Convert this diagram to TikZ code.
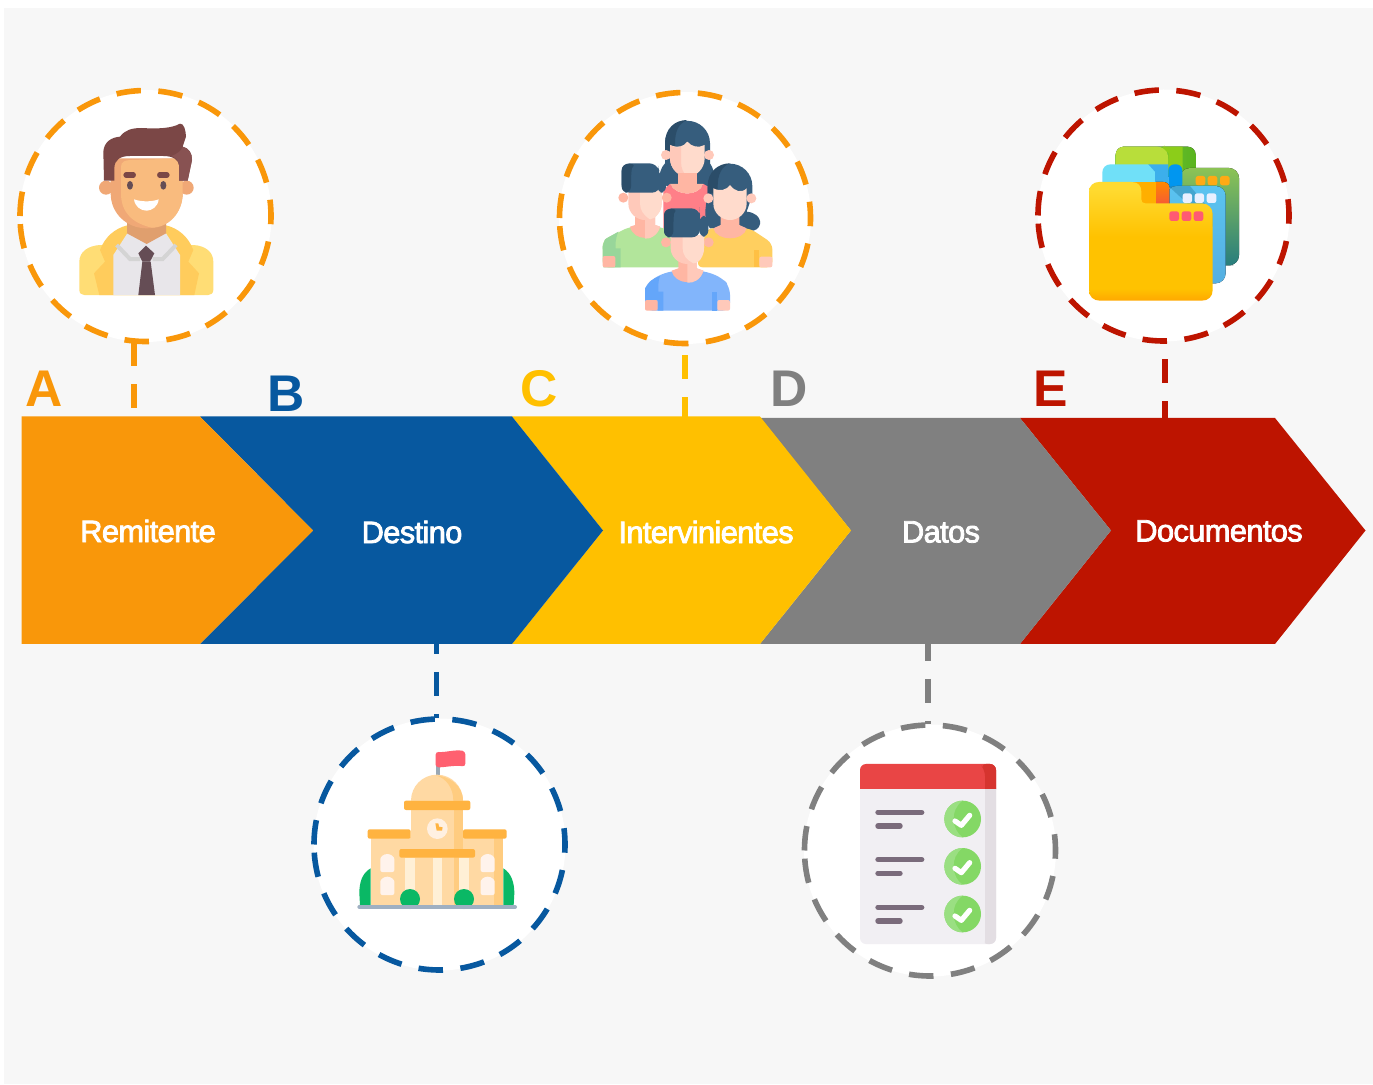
\documentclass[tikz,border=0pt]{standalone}
\usepackage{fontspec}
\setmainfont{Liberation Sans}
\newfontfamily\chevfont[FakeBold=2.6,LetterSpace=-2]{Liberation Sans}
\definecolor{cOrange}{HTML}{F9970A}
\definecolor{cBlue}{HTML}{07589F}
\definecolor{cYellow}{HTML}{FFC000}
\definecolor{cGrey}{HTML}{808080}
\definecolor{cRed}{HTML}{BD1400}
\definecolor{cBg}{HTML}{F7F7F7}
\definecolor{hairM}{HTML}{7B4746}
\definecolor{hairL}{HTML}{885252}
\definecolor{skinL}{HTML}{F9BB7E}
\definecolor{skinD}{HTML}{F0A876}
\definecolor{neckM}{HTML}{E09F6E}
\definecolor{jackL}{HTML}{FFDD75}
\definecolor{jackD}{HTML}{FFCC5C}
\definecolor{shirtM}{HTML}{E8E6EA}
\definecolor{tieM}{HTML}{654D55}
\definecolor{hairB}{HTML}{365D7D}
\definecolor{hairBD}{HTML}{2B4D69}
\definecolor{peopleL}{HTML}{FFDBCC}
\definecolor{peopleD}{HTML}{FFC9BA}
\definecolor{peopleN}{HTML}{FFB6A3}
\definecolor{bldL}{HTML}{FFD9A3}
\definecolor{bldD}{HTML}{FFCC80}
\definecolor{bldB}{HTML}{FFB340}
\definecolor{bldC}{HTML}{FFF0D6}
\definecolor{bldG}{HTML}{0AB865}
\definecolor{foldTop}{HTML}{FFDA30}
\definecolor{foldMid}{HTML}{FFC200}
\definecolor{foldBot}{HTML}{FFA800}
\pgfdeclareverticalshading{folderS}{100bp}{color(0bp)=(foldBot); color(25bp)=(foldBot); color(30bp)=(foldMid); color(52bp)=(foldMid); color(72bp)=(foldTop); color(100bp)=(foldTop)}
\tikzset{
 ring/.style={line width=2.8pt,dash pattern=on 12.25pt off 8.75pt},
 conn/.style={line width=2.9pt,dash pattern=on 12pt off 9pt},
 disc/.style={circle,fill=white,minimum size=126pt,inner sep=0pt},
 letter/.style={font=\fontsize{25.8}{26}\selectfont\bfseries,inner sep=0pt},
 chev/.style={font=\chevfont\fontsize{15.4}{16}\selectfont,text=white,inner sep=0pt},
 icon/.style={x=0.16667pt,y=-0.16667pt},
}
\begin{document}
\begin{tikzpicture}[x=0.5pt,y=-0.5pt]
\useasboundingbox (0,0) rectangle (1373,1085);
\fill[white] (0,0) rectangle (1373,1085);
\fill[cBg] (4,8) rectangle (1373,1084);

% discs
\node[disc] (cA) at (145.5,216) {};
\node[disc] (cB) at (439.5,844.5) {};
\node[disc] (cC) at (685,218) {};
\node[disc] (cD) at (930,850.5) {};
\node[disc] (cE) at (1163.5,215.5) {};
\draw[ring,cOrange] (cA.center) ++(-125.5,0) arc[start angle=180,end angle=540,radius=125.5];
\draw[ring,cBlue] (cB.center) ++(-125.5,0) arc[start angle=180,end angle=540,radius=125.5];
\draw[ring,cOrange] (cC.center) ++(-125.5,0) arc[start angle=180,end angle=540,radius=125.5];
\draw[ring,cGrey] (cD.center) ++(-125.5,0) arc[start angle=180,end angle=540,radius=125.5];
\draw[ring,cRed] (cE.center) ++(-125.5,0) arc[start angle=180,end angle=540,radius=125.5];

% connector feet on the arrow band
\coordinate (pA) at (134,416);
\coordinate (pB) at (436.5,643);
\coordinate (pC) at (685,417);
\coordinate (pD) at (928,643);
\coordinate (pE) at (1165,418);
\draw[conn,cOrange] (pA |- cA.south) -- (pA);
\draw[conn,cBlue,dash phase=6.5pt] (pB) -- (pB |- cB.north);
\draw[conn,cYellow,dash phase=2pt] (pC) -- (pC |- cC.south);
\draw[conn,cGrey,dash phase=3pt] (pD) -- (pD |- cD.north);
\draw[conn,cRed,dash phase=3.5pt] (pE) -- (pE |- cE.south);

% chevrons
\fill[cRed] (1020,418) -- (1275,418) -- (1365.5,530.5) -- (1275,644) -- (1020,644) -- (1111,530.5) -- cycle;
\fill[cGrey] (760,418) -- (1020,418) -- (1111,530.5) -- (1020,644) -- (760,644) -- (851,530.5) -- cycle;
\fill[cYellow] (512,416.5) -- (760,416.5) -- (851,530.5) -- (760,644) -- (512,644) -- (603,530.5) -- cycle;
\fill[cBlue] (200,416.5) -- (512,416.5) -- (603,530.5) -- (512,644) -- (200,644) -- (313,530.5) -- cycle;
\fill[cOrange] (21.5,416.5) -- (200,416.5) -- (313,530.5) -- (200,644) -- (21.5,644) -- cycle;

\node[chev] (tA) at (148,531) {Remitente};
\node[chev] (tB) at (412,532) {Destino};
\node[chev] (tC) at (706,532) {Intervinientes};
\node[chev] (tD) at (941,532) {Datos};
\node[chev] (tE) at (1219,531) {Documentos};

\node[letter,text=cOrange] (lA) at (44,389) {A};
\node[letter,text=cBlue] (lB) at (286.5,393.5) {B};
\node[letter,text=cYellow] (lC) at (539,389) {C};
\node[letter,text=cGrey] (lD) at (789,388.5) {D};
\node[letter,text=cRed] (lE) at (1050.5,389) {E};

% --- man icon (coordinates: 3x crop at 0,80)
\begin{scope}[shift={(0,80)},icon]
\fill[jackL] (238,630) -- (238,545) .. controls (238,515) and (265,497) .. (300,495) -- (580,495) .. controls (615,497) and (640,515) .. (640,545) -- (640,630) .. controls (640,640) and (632,645) .. (625,645) -- (253,645) .. controls (245,645) and (238,640) .. (238,630) -- cycle;
\fill[jackD] (298,645) -- (282,580) -- (315,545) -- (300,510) .. controls (315,470) and (345,445) .. (382,436) -- (498,436) .. controls (535,445) and (565,470) .. (580,510) -- (565,545) -- (597,580) -- (583,645) -- cycle;
\fill[shirtM] (340,645) -- (340,525) -- (382,460) -- (498,460) -- (540,525) -- (540,645) -- cycle;
\draw[line width=2pt,color=black!17] (350,495) -- (390,537) -- (420,537);
\draw[line width=2pt,color=black!17] (528,495) -- (488,537) -- (458,537);
\fill[neckM] (381,400) -- (498,400) -- (498,460) -- (440,492) -- (381,460) -- cycle;
\fill[skinD] (318,323) circle[radius=21] (560,323) circle[radius=21];
\fill[skinD] (332,235) -- (548,235) -- (548,340) .. controls (548,400) and (500,445) .. (440,445) .. controls (380,445) and (332,400) .. (332,340) -- cycle;
\fill[skinL] (363,260) .. controls (363,245) and (375,240) .. (395,240) -- (548,235) -- (548,340) .. controls (548,400) and (505,443) .. (455,443) .. controls (400,430) and (363,400) .. (363,340) -- cycle;
\fill[tieM] (438,497) -- (463,520) -- (450,545) -- (427,545) -- (415,520) -- cycle;
\fill[tieM] (427,545) -- (452,545) -- (465,645) -- (415,645) -- cycle;
\fill[hairM] (312,302) -- (310,215) .. controls (312,185) and (335,172) .. (360,170) .. controls (375,150) and (395,144) .. (425,144) .. controls (475,147) and (515,145) .. (540,131) .. controls (552,130) and (557,150) .. (558,170) -- (548,200) .. controls (568,205) and (576,220) .. (576,240) -- (563,302) -- (537,302) -- (537,255) .. controls (535,240) and (520,228) .. (490,228) -- (390,228) .. controls (360,228) and (343,240) .. (343,265) -- (343,302) -- cycle;
\fill[hairL] (515,228) .. controls (530,222) and (545,212) .. (548,200) .. controls (568,205) and (576,220) .. (576,240) -- (563,302) -- (537,302) -- (537,255) .. controls (535,240) and (525,232) .. (515,228) -- cycle;
\draw[hairM,line width=2.6pt,line cap=round] (378,285) -- (400,285) (479,285) -- (501,285);
\fill[tieM] (390,316) ellipse[x radius=9,y radius=13] (490,316) ellipse[x radius=9,y radius=13];
\fill[white] (402,358) .. controls (425,366) and (455,366) .. (476,358) .. controls (474,380) and (455,392) .. (440,392) .. controls (422,392) and (405,380) .. (402,358) -- cycle;
\end{scope}

% --- people icon (3x crop at 550,80)
\begin{scope}[shift={(550,80)},icon]
% back woman
\fill[hairB] (345,250) -- (345,190) arc[start angle=180,end angle=360,radius=67.5] -- (480,250) .. controls (500,280) and (495,310) .. (470,320) -- (355,320) .. controls (325,310) and (322,275) .. (345,250) -- cycle;
\fill[hairBD] (345,215) -- (345,190) .. controls (345,145) and (375,120) .. (412,120) .. controls (385,130) and (375,155) .. (375,190) -- (375,215) -- cycle;
\fill[peopleD] (348,225) circle[radius=15] (477,225) circle[radius=15];
\fill[peopleL] (360,195) .. controls (385,205) and (400,200) .. (412,185) .. controls (425,200) and (445,205) .. (464,195) -- (464,235) .. controls (464,265) and (440,290) .. (412,290) .. controls (385,290) and (360,265) .. (360,235) -- cycle;
\fill[peopleD] (360,195) .. controls (375,203) and (385,205) .. (393,200) -- (393,245) .. controls (393,265) and (400,280) .. (412,290) .. controls (385,290) and (360,265) .. (360,235) -- cycle;
\fill[peopleN] (385,278) -- (440,278) -- (440,320) -- (385,320) -- cycle;
\fill[color={rgb,255:red,255;green,127;blue,136}] (340,330) -- (360,312) .. controls (380,350) and (445,350) .. (460,312) -- (475,320) -- (475,420) -- (340,450) -- cycle;
\fill[peopleN] (360,312) .. controls (380,350) and (445,350) .. (460,312) -- cycle;
% left man
\fill[color={rgb,255:red,178;green,229;blue,155},rounded corners=3pt] (158,562) -- (158,480) -- (240,440) -- (330,440) -- (400,470) -- (400,562) -- cycle;
\fill[color={rgb,255:red,152;green,214;blue,154}] (165,478) -- (205,455) .. controls (195,480) and (197,490) .. (197,505) -- (212,505) -- (212,562) -- (160,562) -- (158,500) -- cycle;
\fill[peopleN,rounded corners=1pt] (158,528) -- (196,528) -- (196,562) -- (158,562) -- cycle;
\fill[peopleN] (240,440) -- (255,435) -- (255,410) -- (315,410) -- (315,435) -- (330,440) .. controls (320,485) and (250,485) .. (240,440) -- cycle;
\fill[peopleD] (285,410) -- (315,410) -- (315,435) -- (330,440) .. controls (325,465) and (300,478) .. (285,476) -- cycle;
\fill[peopleN] (220,353) circle[radius=15] (350,353) circle[radius=15];
\fill[peopleD] (235,330) -- (335,330) -- (335,370) .. controls (335,400) and (310,420) .. (285,420) .. controls (260,420) and (235,400) .. (235,370) -- cycle;
\fill[peopleL] (270,330) -- (335,330) -- (335,370) .. controls (335,395) and (315,418) .. (300,418) .. controls (280,405) and (270,390) .. (270,370) -- cycle;
\fill[hairB,rounded corners=4pt] (215,338) -- (215,250) -- (322,250) -- (330,280) -- (330,338) -- cycle;
\fill[hairB,rounded corners=3pt] (322,275) -- (348,275) -- (348,338) -- (322,338) -- cycle;
\fill[hairBD,rounded corners=3pt] (215,338) -- (215,252) -- (260,252) .. controls (245,265) and (243,280) .. (243,338) -- cycle;
% right woman
\fill[hairB] (473,345) -- (473,318) arc[start angle=180,end angle=360,radius=67] -- (607,345) -- (590,395) .. controls (640,400) and (640,445) .. (610,452) -- (480,445) .. controls (460,420) and (465,385) .. (473,345) -- cycle;
\fill[hairBD] (473,340) -- (473,318) .. controls (473,275) and (505,250) .. (540,250) .. controls (515,258) and (503,285) .. (503,318) -- (503,340) -- cycle;
\fill[color={rgb,255:red,255;green,207;blue,95},rounded corners=3pt] (440,562) -- (470,445) -- (600,445) -- (667,490) -- (667,562) -- cycle;
\fill[color={rgb,255:red,255;green,192;blue,68}] (613,510) -- (628,510) -- (628,562) -- (613,562) -- cycle;
\fill[peopleD,rounded corners=1pt] (628,530) -- (667,530) -- (667,562) -- (628,562) -- cycle;
\fill[peopleN] (490,445) -- (512,435) -- (512,410) -- (568,410) -- (568,435) -- (590,445) .. controls (580,485) and (500,485) .. (490,445) -- cycle;
\fill[peopleD] (475,355) circle[radius=15] (604,355) circle[radius=15];
\fill[peopleL] (490,325) .. controls (510,335) and (530,330) .. (540,315) .. controls (555,335) and (575,340) .. (590,325) -- (590,370) .. controls (590,400) and (565,420) .. (540,420) .. controls (515,420) and (490,400) .. (490,370) -- cycle;
% front man
\fill[color={rgb,255:red,130;green,181;blue,251},rounded corners=4pt] (285,692) -- (285,620) -- (312,592) -- (365,572) -- (460,572) -- (515,592) -- (540,620) -- (540,692) -- cycle;
\fill[color={rgb,255:red,100;green,166;blue,250}] (285,660) -- (285,625) .. controls (295,605) and (310,595) .. (330,588) .. controls (323,610) and (325,625) .. (325,635) -- (340,635) -- (340,692) -- (323,692) -- (323,660) -- cycle;
\fill[color={rgb,255:red,100;green,166;blue,250}] (486,635) -- (502,635) -- (502,692) -- (486,692) -- cycle;
\fill[peopleN,rounded corners=1pt] (285,660) -- (323,660) -- (323,692) -- (285,692) -- cycle;
\fill[peopleD,rounded corners=1pt] (502,660) -- (540,660) -- (540,692) -- (502,692) -- cycle;
\fill[peopleN] (365,572) -- (385,565) -- (385,540) -- (440,540) -- (440,565) -- (460,572) .. controls (450,618) and (375,618) .. (365,572) -- cycle;
\fill[peopleD] (412,540) -- (440,540) -- (440,565) -- (460,572) .. controls (452,600) and (430,610) .. (412,608) -- cycle;
\fill[peopleN] (348,487) circle[radius=15] (476,487) circle[radius=15];
\fill[peopleD] (362,465) -- (462,465) -- (462,505) .. controls (462,530) and (440,552) .. (412,552) .. controls (385,552) and (362,530) .. (362,505) -- cycle;
\fill[peopleL] (398,465) -- (462,465) -- (462,505) .. controls (462,530) and (445,552) .. (430,550) .. controls (410,540) and (398,525) .. (398,505) -- cycle;
\fill[hairB,rounded corners=4pt] (342,472) -- (342,385) -- (448,385) -- (450,405) -- (450,472) -- cycle;
\fill[hairB,rounded corners=3pt] (448,408) -- (475,408) -- (475,470) -- (448,470) -- cycle;
\fill[hairBD,rounded corners=3pt] (342,472) -- (342,387) -- (385,387) .. controls (372,400) and (370,415) .. (370,472) -- cycle;
\end{scope}

% --- folders icon (3x crop at 1030,80)
\begin{scope}[shift={(1030,80)},icon]
\fill[left color={rgb,255:red,120;green,200;blue,80},right color={rgb,255:red,90;green,180;blue,30},rounded corners=4pt] (257,290) -- (257,200) -- (497,200) -- (497,290) -- cycle;
\fill[color={rgb,255:red,184;green,222;blue,58},rounded corners=4pt] (257,290) -- (257,200) -- (405,200) -- (415,215) -- (415,290) -- cycle;
\fill[color={rgb,255:red,140;green,205;blue,25}] (395,200) -- (458,200) -- (458,280) -- (415,280) -- (415,220) -- cycle;
\fill[top color={rgb,255:red,140;green,195;blue,85},bottom color={rgb,255:red,40;green,125;blue,125},rounded corners=5pt] (450,264) -- (627,264) -- (627,556) -- (580,556) -- (450,556) -- cycle;
\fill[color={rgb,255:red,255;green,170;blue,20},rounded corners=1.2pt] (497,288) rectangle (526,316) (533,288) rectangle (562,316) (570,288) rectangle (599,316);
\fill[color={rgb,255:red,112;green,224;blue,248},rounded corners=4pt] (217,340) -- (217,253) -- (375,253) -- (375,340) -- cycle;
\fill[color={rgb,255:red,60;green,175;blue,235}] (355,253) -- (415,253) -- (415,330) -- (375,330) -- (375,275) -- cycle;
\fill[color={rgb,255:red,0;green,150;blue,240},rounded corners=3pt] (415,330) -- (415,253) -- (457,253) -- (457,330) -- cycle;
\fill[top color={rgb,255:red,90;green,195;blue,240},bottom color={rgb,255:red,85;green,175;blue,225},rounded corners=5pt] (410,318) -- (587,318) -- (587,610) -- (410,610) -- cycle;
\fill[color={rgb,255:red,40;green,130;blue,170},opacity=.45] (415,318) -- (548,440) -- (548,400) -- (480,318) -- cycle;
\fill[color={rgb,255:red,232;green,240;blue,255},rounded corners=1.2pt] (458,340) rectangle (486,369) (494,340) rectangle (522,369) (530,340) rectangle (559,369);
\fill[color={rgb,255:red,255;green,175;blue,0}] (310,306) -- (378,306) -- (378,380) -- (310,380) -- cycle;
\fill[top color={rgb,255:red,255;green,135;blue,0},bottom color={rgb,255:red,245;green,85;blue,60}] (378,380) -- (378,306) -- (400,306) .. controls (410,306) and (418,312) .. (418,322) -- (418,380) -- cycle;
\shade[shading=folderS] (177,630) -- (177,335) .. controls (177,318) and (190,306) .. (207,306) -- (305,306) .. controls (325,306) and (334,318) .. (334,335) -- (334,358) .. controls (334,366) and (338,370) .. (346,370) -- (515,370) .. controls (535,370) and (548,385) .. (548,402) -- (548,630) .. controls (548,650) and (535,662) .. (515,662) -- (210,662) .. controls (190,662) and (177,650) .. (177,630) -- cycle;
\fill[color={rgb,255:red,255;green,90;blue,115},rounded corners=1.2pt] (418,394) rectangle (447,423) (455,394) rectangle (484,423) (491,394) rectangle (520,423);
\end{scope}

% --- building icon (3x crop at 305,710)
\begin{scope}[shift={(305,710)},icon]
\draw[color={rgb,255:red,154;green,168;blue,181},line width=2.3pt] (399,160) -- (399,205);
\fill[color={rgb,255:red,255;green,96;blue,112},rounded corners=1.5pt] (392,172) -- (392,125) .. controls (420,128) and (450,118) .. (481,124) -- (481,170) .. controls (450,165) and (420,172) .. (392,172) -- cycle;
\fill[bldG] (197,475) .. controls (170,490) and (163,520) .. (163,550) -- (165,585) -- (197,585) -- cycle;
\fill[bldG] (595,475) .. controls (620,490) and (628,520) .. (628,550) -- (626,585) -- (595,585) -- cycle;
\fill[bldL] (198,380) rectangle (595,585);
\fill[bldD] (566,380) rectangle (595,585);
\fill[bldL] (318,272) arc[start angle=180,end angle=360,radius=78] -- cycle;
\fill[bldD] (392,196) .. controls (430,198) and (474,225) .. (474,272) -- (445,272) .. controls (445,235) and (425,205) .. (392,196) -- cycle;
\fill[bldL] (318,295) rectangle (474,420);
\fill[bldD] (447,295) rectangle (474,420);
\fill[bldB,rounded corners=1pt] (297,272) rectangle (496,300);
\fill[bldB,rounded corners=1pt] (188,358) rectangle (317,386);
\fill[bldB,rounded corners=1pt] (474,358) rectangle (605,386);
\fill[color={rgb,255:red,255;green,240;blue,225}] (397,356) circle[radius=31];
\fill[bldB] (391,340) -- (400,340) -- (402,350) -- (413,352) -- (411,362) -- (395,362) -- cycle;
\fill[bldC] (300,443) rectangle (330,585);
\fill[bldC] (383,443) rectangle (412,585);
\fill[bldC] (463,443) rectangle (492,585);
\fill[bldD] (447,420) rectangle (463,585);
\fill[bldB,rounded corners=1pt] (283,417) rectangle (510,443);
\foreach \wx in {226,527}{
 \fill[color={rgb,255:red,255;green,243;blue,236},rounded corners=1pt] (\wx,486) -- (\wx,453) arc[start angle=180,end angle=360,radius=21] -- (\wx+42,486) -- cycle;
 \fill[color={rgb,255:red,255;green,243;blue,236},rounded corners=1pt] (\wx,555) -- (\wx,521) arc[start angle=180,end angle=360,radius=21] -- (\wx+42,555) -- cycle;
}
\fill[bldG] (315,567) circle[radius=30];
\fill[bldG] (477,567) circle[radius=30];
\draw[color={rgb,255:red,159;green,176;blue,194},line width=2pt,line cap=round] (163,591) -- (630,591);
\end{scope}

% --- checklist icon (3x crop at 795,715)
\begin{scope}[shift={(795,715)},icon]
\fill[color={rgb,255:red,241;green,239;blue,243},rounded corners=3pt] (195,687) -- (195,200) -- (603,200) -- (603,687) -- cycle;
\fill[color={rgb,255:red,227;green,222;blue,227},rounded corners=3pt] (560,687) .. controls (568,680) and (570,675) .. (570,665) -- (570,200) -- (603,200) -- (603,687) -- cycle;
\fill[color={rgb,255:red,233;green,69;blue,69},rounded corners=3pt] (195,240) -- (195,147) -- (603,147) -- (603,240) -- cycle;
\fill[color={rgb,255:red,214;green,52;blue,47},rounded corners=3pt] (555,147) -- (603,147) -- (603,240) -- (570,240) -- (570,165) -- cycle;
\fill[color={rgb,255:red,241;green,239;blue,243}] (195,222) rectangle (570,245);
\fill[color={rgb,255:red,227;green,222;blue,227}] (570,222) rectangle (603,245);
\foreach \dy in {0,142,285}{
 \draw[color={rgb,255:red,122;green,107;blue,123},line width=2.7pt,line cap=round] (249,292+\dy) -- (380,292+\dy) (249,333+\dy) -- (315,333+\dy);
 \fill[color={rgb,255:red,132;green,216;blue,101}] (503,312+\dy) circle[radius=55];
 \fill[color={rgb,255:red,154;green,223;blue,130}] (503,257+\dy) arc[start angle=270,end angle=90,radius=55] .. controls (470,345+\dy) and (463,285+\dy) .. (503,257+\dy) -- cycle;
 \draw[white,line width=2.6pt,line cap=round,line join=round] (480,318+\dy) -- (499,331+\dy) -- (524,301+\dy);
}
\end{scope}
\end{tikzpicture}
\end{document}
